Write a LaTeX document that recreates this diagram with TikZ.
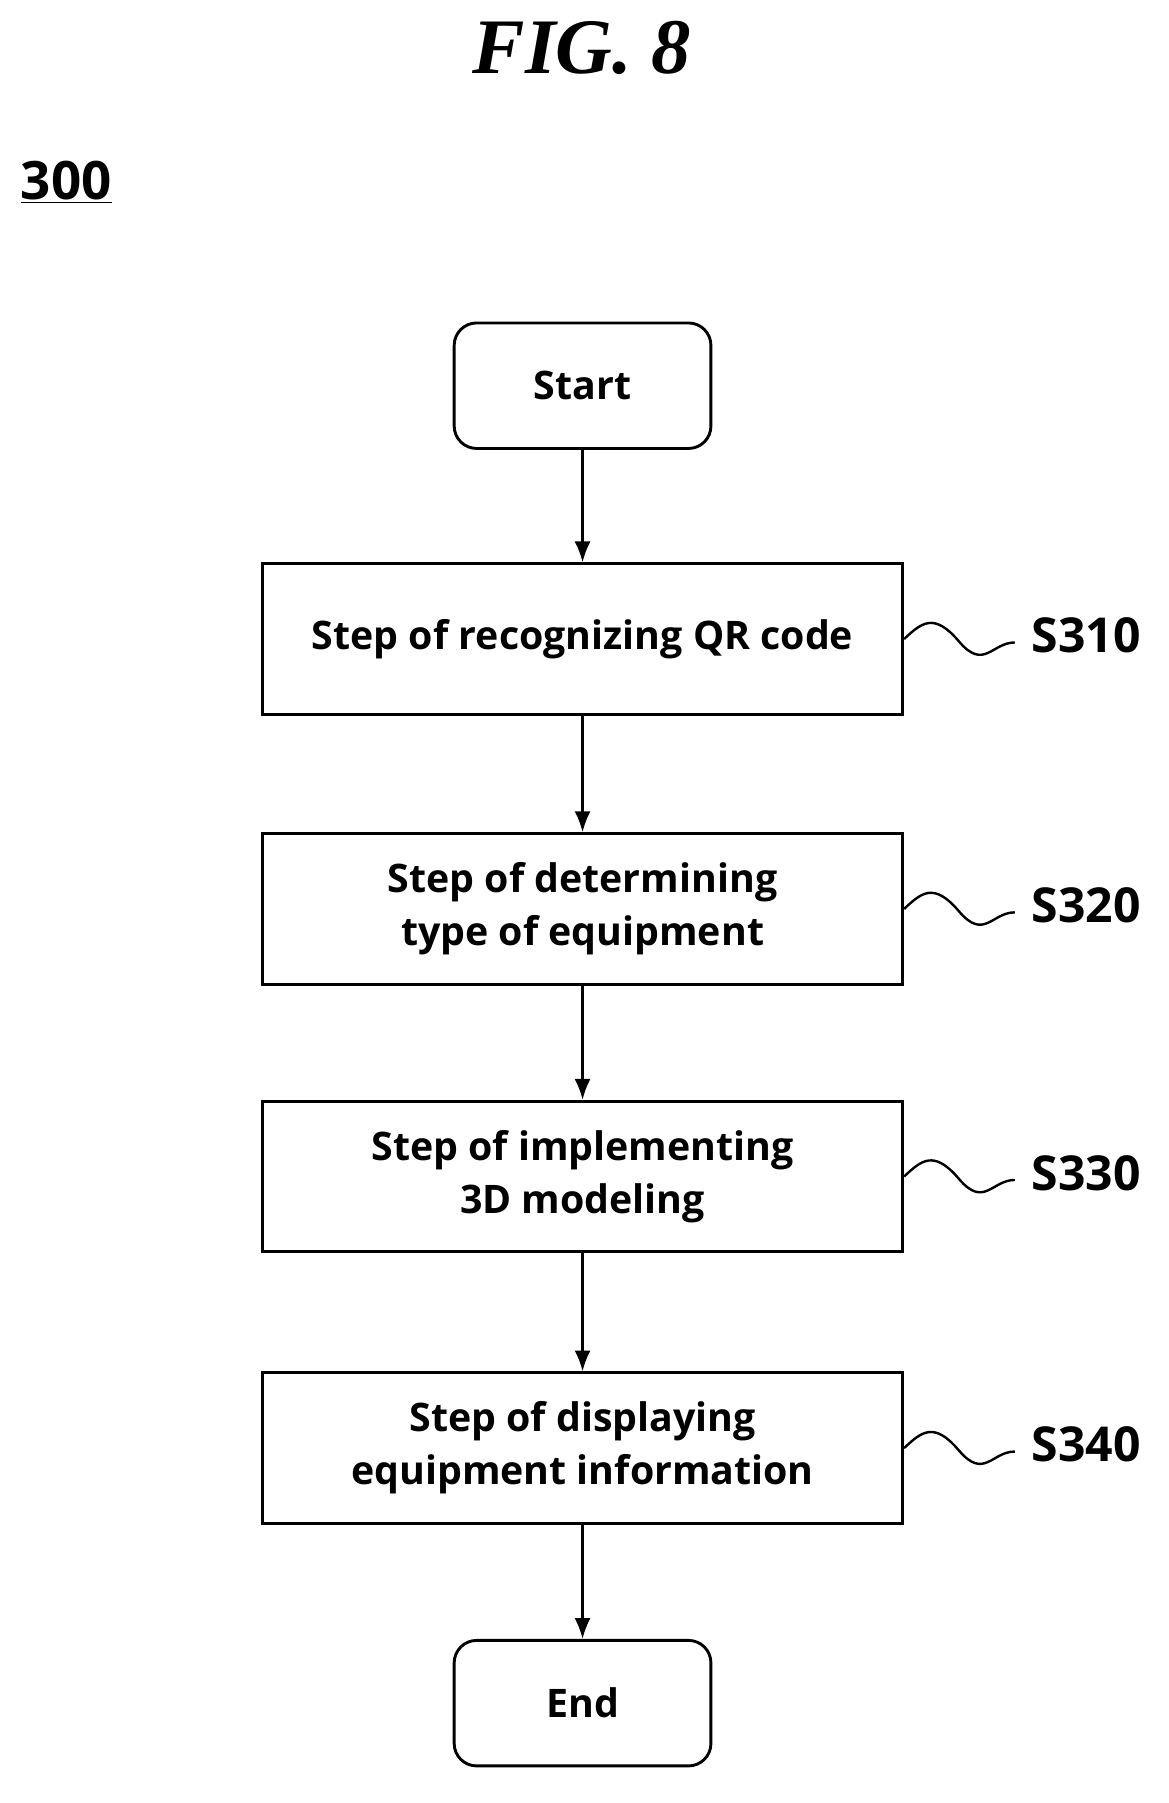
\documentclass[tikz,border=0pt]{standalone}
\usepackage{fontspec}
\usetikzlibrary{arrows.meta,calc}
\setmainfont{Open Sans}
\newfontfamily\figfont{Liberation Serif}
\begin{document}
\begin{tikzpicture}[x=0.025cm,y=-0.025cm,
  box/.style={draw,line width=1.8pt,minimum width=561*0.025cm,minimum height=132*0.025cm,align=center,font=\fontsize{24.5}{33}\selectfont\bfseries},
  term/.style={draw,line width=1.8pt,rounded corners=14pt,minimum width=225*0.025cm,minimum height=110*0.025cm,font=\fontsize{24.5}{33}\selectfont\bfseries},
  lab/.style={anchor=west,font=\fontsize{30}{36}\selectfont\bfseries},
  arr/.style={line width=1.4pt,-{Latex[length=13pt,width=10pt]}}]
\useasboundingbox (0,0) rectangle (1024,1580);
\node[font=\fontsize{49}{56}\selectfont\figfont\bfseries\itshape] (fig) at (510,42) {FIG. 8};
\node[anchor=west,font=\fontsize{33}{38}\selectfont\bfseries,inner sep=0] (n300) at (18,160) {\underline{300}};
\node[term] (start) at (510.5,338) {Start};
\node[box] (s1) at (510.5,560) {Step of recognizing QR code};
\node[box] (s2) at (510.5,796.5) {Step of determining\\type of equipment};
\node[box] (s3) at (510.5,1031) {Step of implementing\\3D modeling};
\node[box] (s4) at (510.5,1269) {Step of displaying\\equipment information};
\node[term] (end) at (510.5,1492.5) {End};
\draw[arr] (start) -- (s1);
\draw[arr] (s1) -- (s2);
\draw[arr] (s2) -- (s3);
\draw[arr] (s3) -- (s4);
\draw[arr] (s4) -- (end);
\foreach \n/\t in {s1/S310,s2/S320,s3/S330,s4/S340}{
  \coordinate (m\n) at ($(\n.east)+(48,2)$);
  \coordinate (w\n) at ($(\n.east)+(97,3)$);
  \draw[line width=1.5pt] (\n.east) .. controls ($(\n.east)+(15,-14)$) and ($(m\n)+(-22,-26)$) .. (m\n) .. controls ($(m\n)+(22,26)$) and ($(w\n)+(-20,0)$) .. (w\n);
  \node[lab] (l\n) at ($(w\n)+(10,-6)$) {\t};
}
\end{tikzpicture}
\end{document}
